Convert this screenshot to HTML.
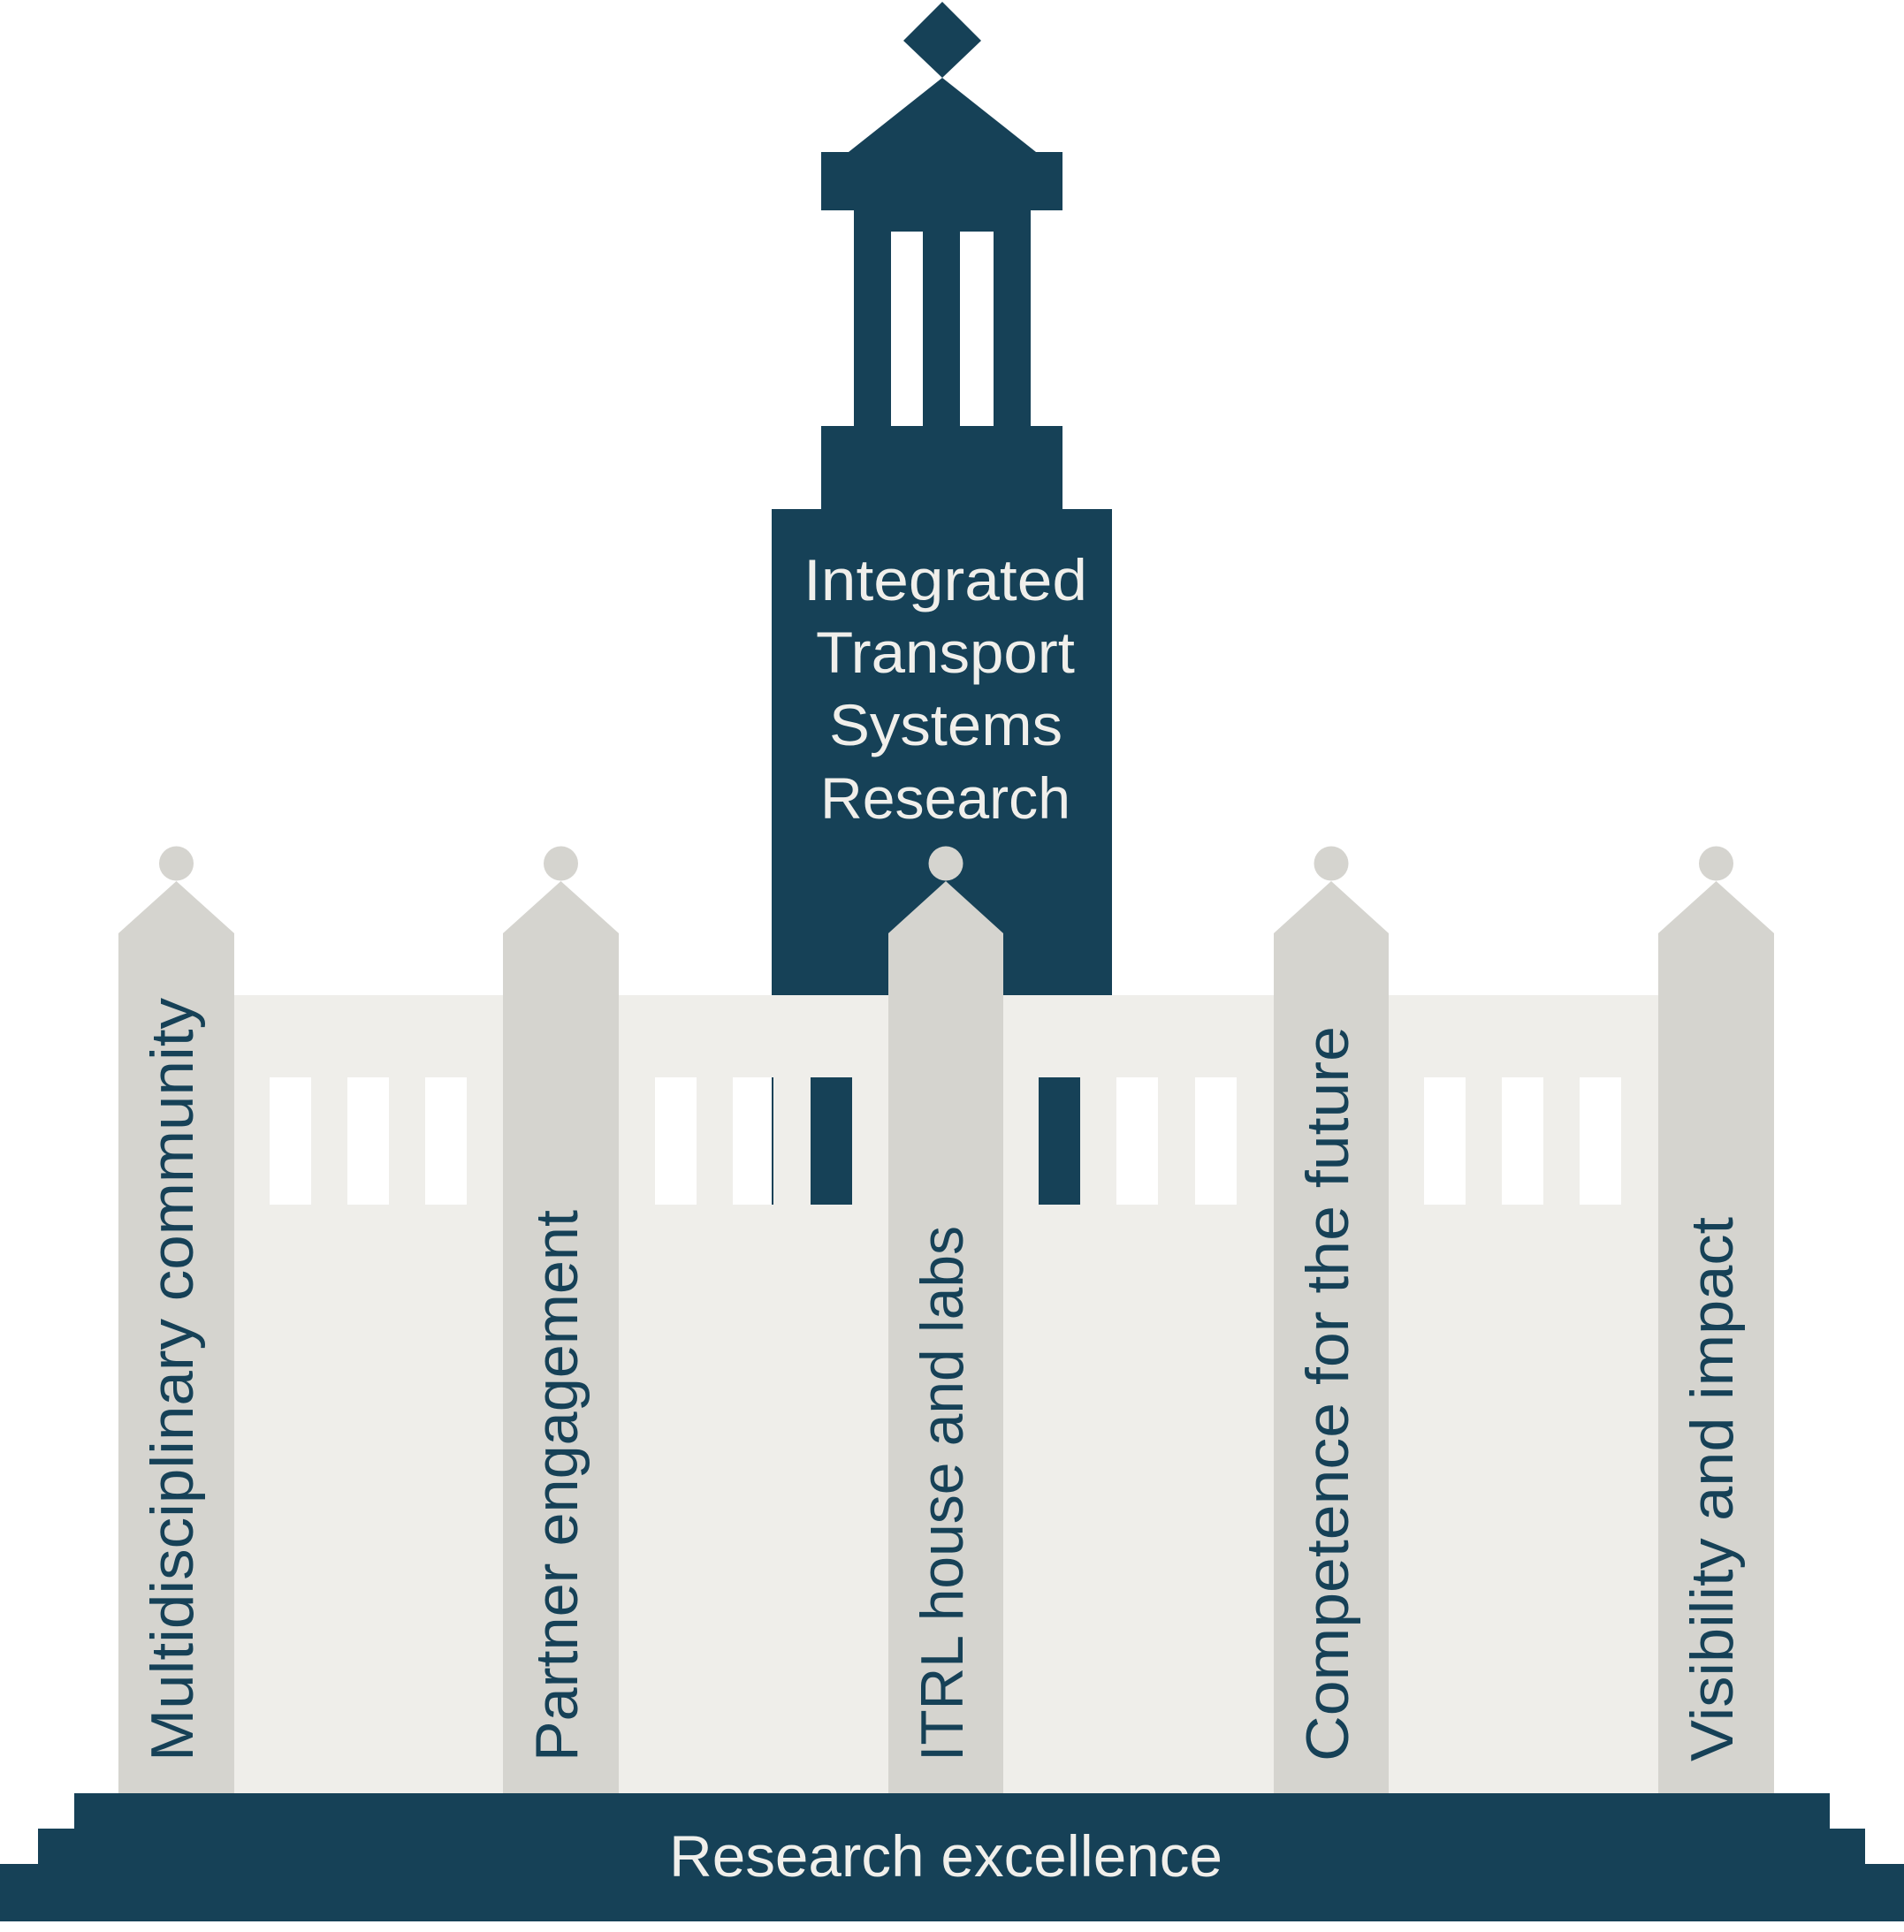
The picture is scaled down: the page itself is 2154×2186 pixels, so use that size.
<!DOCTYPE html>
<html><head><meta charset="utf-8"><style>html,body{margin:0;padding:0;background:#fff}svg{display:block}</style></head>
<body>
<svg width="2154" height="2186" viewBox="0 0 2154 2186" xmlns="http://www.w3.org/2000/svg">
<g fill="#164157">
  <polygon points="1066,2 1110,46 1066,88 1022,46"/>
  <polygon points="1066,88 1172,172 960,172"/>
  <rect x="929" y="172" width="273" height="66"/>
  <rect x="966" y="237" width="200" height="246"/>
  <rect x="929" y="482" width="273" height="95"/>
  <rect x="873" y="576" width="385" height="552"/>
</g>
<rect x="1008" y="262" width="36" height="220" fill="#fff"/>
<rect x="1086" y="262" width="38" height="220" fill="#fff"/>
<rect x="265" y="1126" width="1611" height="904" fill="#efeeea"/>
<g fill="#fff">
  <rect x="305" y="1219" width="47" height="144"/>
  <rect x="393" y="1219" width="47" height="144"/>
  <rect x="481" y="1219" width="47" height="144"/>
  <rect x="741" y="1219" width="47" height="144"/>
  <rect x="829" y="1219" width="45" height="144"/>
  <rect x="1263" y="1219" width="47" height="144"/>
  <rect x="1352" y="1219" width="47" height="144"/>
  <rect x="1611" y="1219" width="47" height="144"/>
  <rect x="1699" y="1219" width="47" height="144"/>
  <rect x="1787" y="1219" width="47" height="144"/>
</g>
<g fill="#164157">
  <rect x="873" y="1219" width="2" height="144"/>
  <rect x="917" y="1219" width="47" height="144"/>
  <rect x="1175" y="1219" width="47" height="144"/>
</g>
<g fill="#d5d4cf">
  <circle cx="199.5" cy="977" r="19.5"/><polygon points="134,1056 199.5,997 265,1056 265,2030 134,2030"/>
  <circle cx="634.5" cy="977" r="19.5"/><polygon points="569,1056 634.5,997 700,1056 700,2030 569,2030"/>
  <circle cx="1070" cy="977" r="19.5"/><polygon points="1005,1056 1070,997 1135,1056 1135,2030 1005,2030"/>
  <circle cx="1506" cy="977" r="19.5"/><polygon points="1441,1056 1506,997 1571,1056 1571,2030 1441,2030"/>
  <circle cx="1941.5" cy="977" r="19.5"/><polygon points="1876,1056 1941.5,997 2007,1056 2007,2030 1876,2030"/>
</g>
<g fill="#164157">
  <rect x="84" y="2029" width="1986" height="41"/>
  <rect x="43" y="2069" width="2067" height="41"/>
  <rect x="0" y="2109" width="2154" height="65"/>
</g>
<g font-family="Liberation Sans, sans-serif" fill="#164157" font-size="68">
  <text transform="translate(218,1993) rotate(-90)" textLength="864" lengthAdjust="spacingAndGlyphs">Multidisciplinary community</text>
  <text transform="translate(653,1993) rotate(-90)" textLength="624" lengthAdjust="spacingAndGlyphs">Partner engagement</text>
  <text transform="translate(1089,1993) rotate(-90)" textLength="606" lengthAdjust="spacingAndGlyphs">ITRL house and labs</text>
  <text transform="translate(1525,1993) rotate(-90)" textLength="832" lengthAdjust="spacingAndGlyphs">Competence for the future</text>
  <text transform="translate(1960,1993) rotate(-90)" textLength="616" lengthAdjust="spacingAndGlyphs">Visibility and impact</text>
</g>
<g font-family="Liberation Sans, sans-serif" fill="#f0efeb" font-size="66">
  <text x="909" y="679" textLength="321" lengthAdjust="spacingAndGlyphs">Integrated</text>
  <text x="923" y="761" textLength="293" lengthAdjust="spacingAndGlyphs">Transport</text>
  <text x="938" y="843" textLength="264" lengthAdjust="spacingAndGlyphs">Systems</text>
  <text x="928" y="926" textLength="283" lengthAdjust="spacingAndGlyphs">Research</text>
  <text x="757" y="2123" textLength="626" lengthAdjust="spacingAndGlyphs">Research excellence</text>
</g>
</svg>
</body></html>
